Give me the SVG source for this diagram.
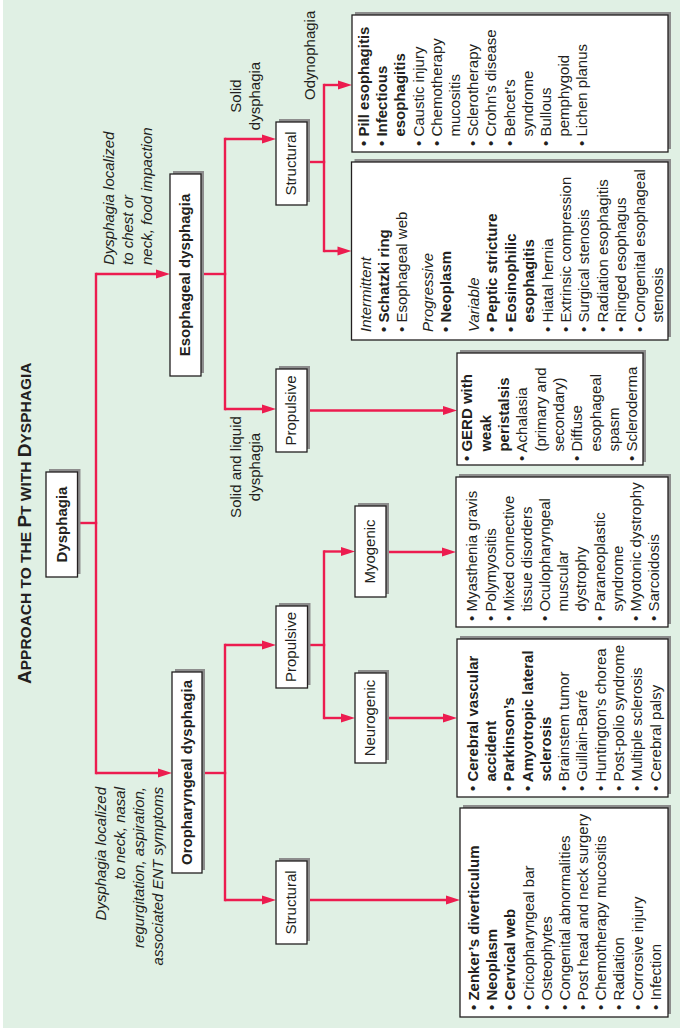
<svg xmlns="http://www.w3.org/2000/svg" width="680" height="1028" viewBox="0 0 680 1028">
<style>
.bg{fill:#e0f0e4}
.sh{fill:#8d8d8d}
.bx{fill:#fff;stroke:#231f20;stroke-width:1.3}
.t{font-family:"Liberation Sans",Arial,Helvetica,sans-serif;font-size:15px;fill:#231f20}
.b{font-weight:bold}
.i{font-style:italic}
.m{text-anchor:middle}
.e{text-anchor:end}
.c path{stroke:#ec1c4f;stroke-width:2.4;fill:none}
.c .v{stroke-linecap:square}
.c .a{marker-end:url(#ah)}
</style>
<defs>
<marker id="ah" markerUnits="userSpaceOnUse" markerWidth="14" markerHeight="9" refX="8" refY="4.5" orient="auto" overflow="visible">
<path d="M0,0 L14,4.5 L0,9 Z" fill="#ec1c4f"/>
</marker>
</defs>
<rect x="0" y="0" width="680" height="1028" fill="#ffffff"/>
<rect class="bg" x="3" y="0" width="677" height="1028"/>

<text class="t b" transform="translate(31,684) rotate(-90)"><tspan font-size="19">A</tspan><tspan font-size="15.5">PPROACH TO THE </tspan><tspan font-size="19">P</tspan><tspan font-size="15.5">T WITH </tspan><tspan font-size="19">D</tspan><tspan font-size="15.5">YSPHAGIA</tspan></text>

<g class="c" id="connectors">
<path class="v" d="M77.5,523 H96"/>
<path class="v" d="M96,274 V773"/>
<path class="a" d="M96,274 H164"/>
<path class="a" d="M96,773 H166"/>
<path class="v" d="M201,274 H225"/>
<path class="v" d="M225,139 V409"/>
<path class="a" d="M225,139 H270"/>
<path class="a" d="M225,409 H270"/>
<path class="v" d="M307,162 H324"/>
<path class="v" d="M324,85 V251"/>
<path class="a" d="M324,85 H346"/>
<path class="a" d="M324,251 H345.5"/>
<path class="a" d="M307,410.5 H451"/>
<path class="v" d="M202,773 H225"/>
<path class="v" d="M225,645 V900"/>
<path class="a" d="M225,645 H270"/>
<path class="a" d="M225,900 H270"/>
<path class="v" d="M307.5,645 H324"/>
<path class="v" d="M324,551.5 V718"/>
<path class="a" d="M324,551.5 H349"/>
<path class="a" d="M324,718 H349"/>
<path class="a" d="M386,552 H450"/>
<path class="a" d="M386,718 H451"/>
<path class="a" d="M307,900 H454"/>
</g>

<g id="n-dysphagia">
<rect class="sh" x="49" y="469" width="31.5" height="105"/>
<rect class="bx" x="46" y="472" width="31.5" height="105"/>
<text class="t b m" transform="translate(66.5,524.5) rotate(-90)">Dysphagia</text>
</g>

<g id="n-esophageal">
<rect class="sh" x="173" y="171" width="31" height="202"/>
<rect class="bx" x="170" y="174" width="31" height="202"/>
<text class="t b m" transform="translate(190,275) rotate(-90)">Esophageal dysphagia</text>
</g>

<g id="n-oropharyngeal">
<rect class="sh" x="175" y="669" width="30" height="201"/>
<rect class="bx" x="172" y="672" width="30" height="201"/>
<text class="t b m" transform="translate(191.5,772.5) rotate(-90)">Oropharyngeal dysphagia</text>
</g>

<g id="n-structural-e">
<rect class="sh" x="279" y="119" width="31" height="83"/>
<rect class="bx" x="276" y="122" width="31" height="83"/>
<text class="t m" transform="translate(296,163.5) rotate(-90)">Structural</text>
</g>

<g id="n-propulsive-e">
<rect class="sh" x="279" y="366" width="31" height="83"/>
<rect class="bx" x="276" y="369" width="31" height="83"/>
<text class="t m" transform="translate(296,410.5) rotate(-90)">Propulsive</text>
</g>

<g id="n-propulsive-o">
<rect class="sh" x="279" y="603" width="31.5" height="82"/>
<rect class="bx" x="276" y="606" width="31.5" height="82"/>
<text class="t m" transform="translate(296.3,647) rotate(-90)">Propulsive</text>
</g>

<g id="n-structural-o">
<rect class="sh" x="279" y="858" width="31" height="83"/>
<rect class="bx" x="276" y="861" width="31" height="83"/>
<text class="t m" transform="translate(296,902.5) rotate(-90)">Structural</text>
</g>

<g id="n-myogenic">
<rect class="sh" x="358" y="503" width="31" height="91"/>
<rect class="bx" x="355" y="506" width="31" height="91"/>
<text class="t m" transform="translate(375,551.5) rotate(-90)">Myogenic</text>
</g>

<g id="n-neurogenic">
<rect class="sh" x="358" y="670" width="31" height="90"/>
<rect class="bx" x="355" y="673" width="31" height="90"/>
<text class="t m" transform="translate(375,718) rotate(-90)">Neurogenic</text>
</g>

<g id="l-odynophagia">
<rect class="sh" x="355" y="12" width="316" height="137"/>
<rect class="bx" x="352" y="15" width="316" height="137"/>
<text class="t" transform="translate(369,146) rotate(-90)"><tspan class="b" x="0" y="0">• Pill esophagitis</tspan><tspan class="b" x="0" y="18.2">• Infectious</tspan><tspan class="b" x="9.4" y="36.4">esophagitis</tspan><tspan x="0" y="54.6">• Caustic injury</tspan><tspan x="0" y="72.8">• Chemotherapy</tspan><tspan x="9.4" y="91">mucositis</tspan><tspan x="0" y="109.2">• Sclerotherapy</tspan><tspan x="0" y="127.4">• Crohn’s disease</tspan><tspan x="0" y="145.6">• Behcet’s</tspan><tspan x="9.4" y="163.8">syndrome</tspan><tspan x="0" y="182">• Bullous</tspan><tspan x="9.4" y="200.2">pemphygoid</tspan><tspan x="0" y="218.4">• Lichen planus</tspan></text>
</g>

<g id="l-solid">
<rect class="sh" x="354.5" y="159" width="316.5" height="178"/>
<rect class="bx" x="351.5" y="162" width="316.5" height="178"/>
<text class="t" transform="translate(370.5,332) rotate(-90)"><tspan class="i" x="0" y="0">Intermittent</tspan><tspan class="b" x="0" y="18">• Schatzki ring</tspan><tspan x="0" y="36">• Esophageal web</tspan><tspan class="i" x="0" y="62.3">Progressive</tspan><tspan class="b" x="0" y="80.7">• Neoplasm</tspan><tspan class="i" x="0" y="108.5">Variable</tspan><tspan class="b" x="0" y="126.9">• Peptic stricture</tspan><tspan class="b" x="0" y="145.3">• Eosinophilic</tspan><tspan class="b" x="9.4" y="163.7">esophagitis</tspan><tspan x="0" y="182.1">• Hiatal hernia</tspan><tspan x="0" y="200.5">• Extrinsic compression</tspan><tspan x="0" y="218.9">• Surgical stenosis</tspan><tspan x="0" y="237.3">• Radiation esophagitis</tspan><tspan x="0" y="255.7">• Ringed esophagus</tspan><tspan x="0" y="274.1">• Congenital esophageal</tspan><tspan x="9.4" y="292.5">stenosis</tspan></text>
</g>

<g id="l-propulsive-e">
<rect class="sh" x="460" y="350" width="186" height="112"/>
<rect class="bx" x="457" y="353" width="186" height="112"/>
<text class="t" transform="translate(472.4,461) rotate(-90)"><tspan class="b" x="0" y="0">• GERD with</tspan><tspan class="b" x="9.4" y="18.33">weak</tspan><tspan class="b" x="9.4" y="36.66">peristalsis</tspan><tspan x="0" y="55">• Achalasia</tspan><tspan x="9.4" y="73.3">(primary and</tspan><tspan x="9.4" y="91.6">secondary)</tspan><tspan x="0" y="110">• Diffuse</tspan><tspan x="9.4" y="128.3">esophageal</tspan><tspan x="9.4" y="146.6">spasm</tspan><tspan x="0" y="165">• Scleroderma</tspan></text>
</g>

<g id="l-myogenic">
<rect class="sh" x="459" y="474" width="212" height="150"/>
<rect class="bx" x="456" y="477" width="212" height="150"/>
<text class="t" transform="translate(477.4,621) rotate(-90)"><tspan x="0" y="0">• Myasthenia gravis</tspan><tspan x="0" y="18.16">• Polymyositis</tspan><tspan x="0" y="36.32">• Mixed connective</tspan><tspan x="9.4" y="54.48">tissue disorders</tspan><tspan x="0" y="72.64">• Oculopharyngeal</tspan><tspan x="9.4" y="90.8">muscular</tspan><tspan x="9.4" y="108.96">dystrophy</tspan><tspan x="0" y="127.12">• Paraneoplastic</tspan><tspan x="9.4" y="145.28">syndrome</tspan><tspan x="0" y="163.44">• Myotonic dystrophy</tspan><tspan x="0" y="181.6">• Sarcoidosis</tspan></text>
</g>

<g id="l-neurogenic">
<rect class="sh" x="460" y="636" width="211" height="158"/>
<rect class="bx" x="457" y="639" width="211" height="158"/>
<text class="t" transform="translate(477.7,791) rotate(-90)"><tspan class="b" x="0" y="0">• Cerebral vascular</tspan><tspan class="b" x="9.4" y="18.3">accident</tspan><tspan class="b" x="0" y="36.6">• Parkinson’s</tspan><tspan class="b" x="0" y="54.9">• Amyotropic lateral</tspan><tspan class="b" x="9.4" y="73.2">sclerosis</tspan><tspan x="0" y="91.5">• Brainstem tumor</tspan><tspan x="0" y="109.8">• Guillain-Barré</tspan><tspan x="0" y="128.1">• Huntington’s chorea</tspan><tspan x="0" y="146.4">• Post-polio syndrome</tspan><tspan x="0" y="164.7">• Multiple sclerosis</tspan><tspan x="0" y="183">• Cerebral palsy</tspan></text>
</g>

<g id="l-structural-o">
<rect class="sh" x="463" y="805" width="208" height="209"/>
<rect class="bx" x="460" y="808" width="208" height="209"/>
<text class="t" transform="translate(479,1010) rotate(-90)"><tspan class="b" x="0" y="0">• Zenker’s diverticulum</tspan><tspan class="b" x="0" y="18.17">• Neoplasm</tspan><tspan class="b" x="0" y="36.34">• Cervical web</tspan><tspan x="0" y="54.51">• Cricopharyngeal bar</tspan><tspan x="0" y="72.68">• Osteophytes</tspan><tspan x="0" y="90.85">• Congenital abnormalities</tspan><tspan x="0" y="109.02">• Post head and neck surgery</tspan><tspan x="0" y="127.19">• Chemotherapy mucositis</tspan><tspan x="0" y="145.36">• Radiation</tspan><tspan x="0" y="163.53">• Corrosive injury</tspan><tspan x="0" y="181.7">• Infection</tspan></text>
</g>

<g id="labels">
<text class="t i" transform="translate(114,265) rotate(-90)"><tspan x="0" y="0">Dysphagia localized</tspan><tspan x="0" y="19.2">to chest or</tspan><tspan x="0" y="38.4">neck, food impaction</tspan></text>
<text class="t i e" transform="translate(105.7,787) rotate(-90)"><tspan x="0" y="0">Dysphagia localized</tspan><tspan x="0" y="19">to neck, nasal</tspan><tspan x="0" y="38.5">regurgitation, aspiration,</tspan><tspan x="0" y="57">associated ENT symptoms</tspan></text>
<text class="t m" transform="translate(241,96) rotate(-90)"><tspan x="0" y="0">Solid</tspan><tspan x="0" y="19">dysphagia</tspan></text>
<text class="t m" transform="translate(240.5,467) rotate(-90)"><tspan x="0" y="0">Solid and liquid</tspan><tspan x="0" y="19.5">dysphagia</tspan></text>
<text class="t" transform="translate(315,100) rotate(-90)">Odynophagia</text>
</g>
</svg>
